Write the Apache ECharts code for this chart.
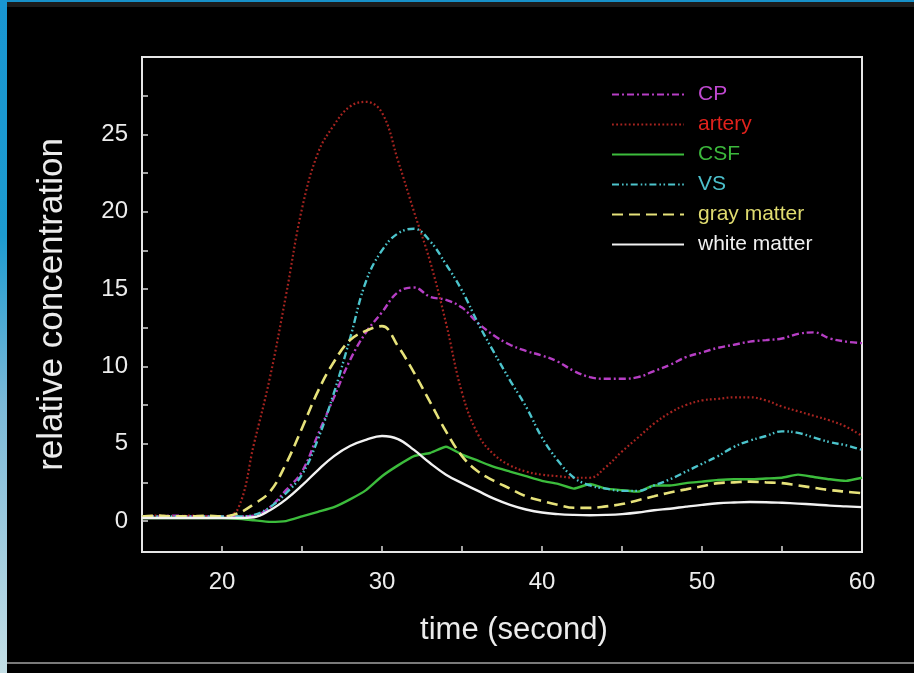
<!DOCTYPE html>
<html>
<head>
<meta charset="utf-8">
<script src="https://cdn.jsdelivr.net/npm/echarts@6/dist/echarts.min.js"></script>
<style>
html,body{margin:0;padding:0;background:#000;overflow:hidden;}
#chart{position:absolute;left:0;top:0;width:914px;height:673px;z-index:1;}
.ov{position:absolute;pointer-events:none;z-index:10;}
</style>
</head>
<body>
<div id="chart"></div>
<div class="ov" style="left:0;top:0;width:914px;height:2px;background:#1790c8;"></div>
<div class="ov" style="left:7px;top:2px;width:907px;height:5px;background:#1b1b1b;"></div>
<div class="ov" style="left:0;top:0;width:7px;height:673px;background:linear-gradient(#1996d2 0%,#1d9bd0 35%,#7bb9d8 60%,#c4dfe6 100%);"></div>
<div class="ov" style="left:7px;top:662px;width:907px;height:2px;background:#7a7a7a;"></div>
<script>
// time axis (seconds)
var times = [15,16,17,18,19,20,21,22,23,24,25,26,27,28,29,30,31,32,33,34,35,36,37,38,39,40,41,42,43,44,45,46,47,48,49,50,51,52,53,54,55,56,57,58,59,60];

var cp = [0.3,0.3,0.35,0.3,0.3,0.3,0.3,0.35,0.9,2.0,3.2,5.6,8.0,10.4,12.2,13.5,14.8,15.1,14.5,14.3,13.8,12.8,12.0,11.4,11.0,10.7,10.3,9.7,9.3,9.2,9.2,9.3,9.7,10.1,10.6,10.9,11.2,11.4,11.6,11.7,11.8,12.1,12.2,11.8,11.6,11.5];
var artery = [0.3,0.35,0.3,0.35,0.3,0.3,0.8,5.0,9.3,14.6,20.2,23.8,25.6,26.8,27.1,26.4,23.3,20.0,16.8,12.8,8.3,5.6,4.3,3.6,3.2,3.0,2.9,2.8,2.8,3.5,4.5,5.4,6.3,7.0,7.5,7.8,7.9,8.0,8.0,7.8,7.4,7.1,6.8,6.5,6.1,5.5];
var csf = [0.2,0.2,0.2,0.2,0.2,0.2,0.15,0.05,-0.05,0.0,0.3,0.6,0.9,1.4,2.0,2.9,3.6,4.2,4.4,4.8,4.3,3.9,3.5,3.2,2.9,2.6,2.4,2.1,2.4,2.1,2.0,1.9,2.3,2.3,2.45,2.55,2.65,2.7,2.7,2.75,2.8,3.0,2.85,2.7,2.6,2.8];
var vs = [0.3,0.3,0.3,0.3,0.3,0.3,0.3,0.4,0.9,1.8,3.0,5.3,8.3,11.8,15.5,17.5,18.6,18.9,18.1,16.6,14.9,12.8,10.9,9.1,7.4,5.4,3.9,2.8,2.3,2.1,1.95,1.95,2.3,2.7,3.2,3.7,4.2,4.8,5.2,5.5,5.8,5.7,5.4,5.1,4.9,4.6];
var grayMatter = [0.3,0.35,0.3,0.3,0.35,0.3,0.5,1.1,1.9,3.7,6.0,8.4,10.3,11.7,12.3,12.6,11.3,9.6,7.7,5.8,4.2,3.2,2.6,2.1,1.6,1.3,1.05,0.86,0.85,0.95,1.1,1.35,1.6,1.85,2.05,2.25,2.45,2.5,2.55,2.5,2.45,2.3,2.15,2.0,1.9,1.8];
var whiteMatter = [0.2,0.2,0.2,0.2,0.2,0.2,0.2,0.25,0.7,1.4,2.3,3.3,4.2,4.85,5.25,5.5,5.3,4.6,3.75,3.0,2.45,1.95,1.45,1.05,0.75,0.55,0.45,0.4,0.38,0.4,0.45,0.55,0.7,0.8,0.93,1.05,1.15,1.2,1.23,1.22,1.18,1.13,1.07,1.0,0.95,0.9];

var xLabelValues = [20,30,40,50,60];
var xTickValues = [20,25,30,35,40,45,50,55];
var yLabelValues = [0,5,10,15,20,25];
var yTickValues = [0,2.5,5,7.5,10,12.5,15,17.5,20,22.5,25,27.5];

function pairs(arr){ return times.map(function(t,i){ return [t, arr[i]]; }); }

var FONT = '"Liberation Sans", Arial, sans-serif';
var seriesDefs = [
  {name:'CP', data:cp, color:'#b63ec4', text:'#c048d0', type:[7,3,2,3], width:2.4, smooth:0.4},
  {name:'artery', data:artery, color:'#a82420', text:'#e0221c', type:[1.8,2.4], width:2.2, smooth:0.4},
  {name:'CSF', data:csf, color:'#3cbc3c', text:'#3cb83c', type:'solid', width:2.4, smooth:0.15},
  {name:'VS', data:vs, color:'#4cc4cc', text:'#4cc0cc', type:[7,3,1.6,2.5,1.6,3], width:2.4, smooth:0.4},
  {name:'gray matter', data:grayMatter, color:'#e6e27a', text:'#e0dc70', type:[11,6], width:2.6, smooth:0.4},
  {name:'white matter', data:whiteMatter, color:'#f2f2f2', text:'#f0f0f0', type:'solid', width:2.4, smooth:0.4}
];

var chart = echarts.init(document.getElementById('chart'), null, {renderer:'canvas'});
chart.setOption({
  backgroundColor:'#000',
  animation:false,
  grid:{left:142, top:57, width:720, height:495, show:true, borderColor:'#e6e6e6', borderWidth:2, backgroundColor:'transparent'},
  legend:{
    orient:'vertical', left:606, top:79, itemWidth:72, itemHeight:20, itemGap:9,
    itemStyle:{opacity:0},
    textStyle:{fontFamily:FONT, fontSize:21, lineHeight:20, padding:[0,0,0,9]},
    data: seriesDefs.map(function(s){ return {name:s.name, textStyle:{color:s.text}}; })
  },
  xAxis:{
    type:'value', min:15, max:60, interval:5,
    name:'time (second)', nameLocation:'middle', nameGap:63,
    nameTextStyle:{color:'#ececec', fontFamily:FONT, fontSize:31, padding:[0,0,0,24]},
    axisLine:{show:true, onZero:false, lineStyle:{color:'#e6e6e6', width:2}},
    axisTick:{show:true, inside:true, length:6, lineStyle:{color:'#d8d8d8', width:1.5}, customValues:xTickValues},
    axisLabel:{color:'#ececec', fontFamily:FONT, fontSize:24, margin:18, customValues:xLabelValues},
    splitLine:{show:false}
  },
  yAxis:{
    type:'value', min:-2, max:30,
    name:'relative concentration', nameLocation:'middle', nameGap:72, nameRotate:90,
    nameTextStyle:{color:'#ececec', fontFamily:FONT, fontSize:35},
    axisLine:{show:true, onZero:false, lineStyle:{color:'#e6e6e6', width:2}},
    axisTick:{show:true, inside:true, length:6, lineStyle:{color:'#d8d8d8', width:1.5}, customValues:yTickValues},
    axisLabel:{color:'#ececec', fontFamily:FONT, fontSize:24, margin:14, customValues:yLabelValues},
    splitLine:{show:false}
  },
  series: seriesDefs.map(function(s){
    return {
      name:s.name, type:'line', data:pairs(s.data), smooth:s.smooth,
      showSymbol:false, symbol:'none', color:s.color,
      lineStyle:{color:s.color, width:s.width, type:s.type},
      itemStyle:{color:s.color}
    };
  })
});
</script>
</body>
</html>
